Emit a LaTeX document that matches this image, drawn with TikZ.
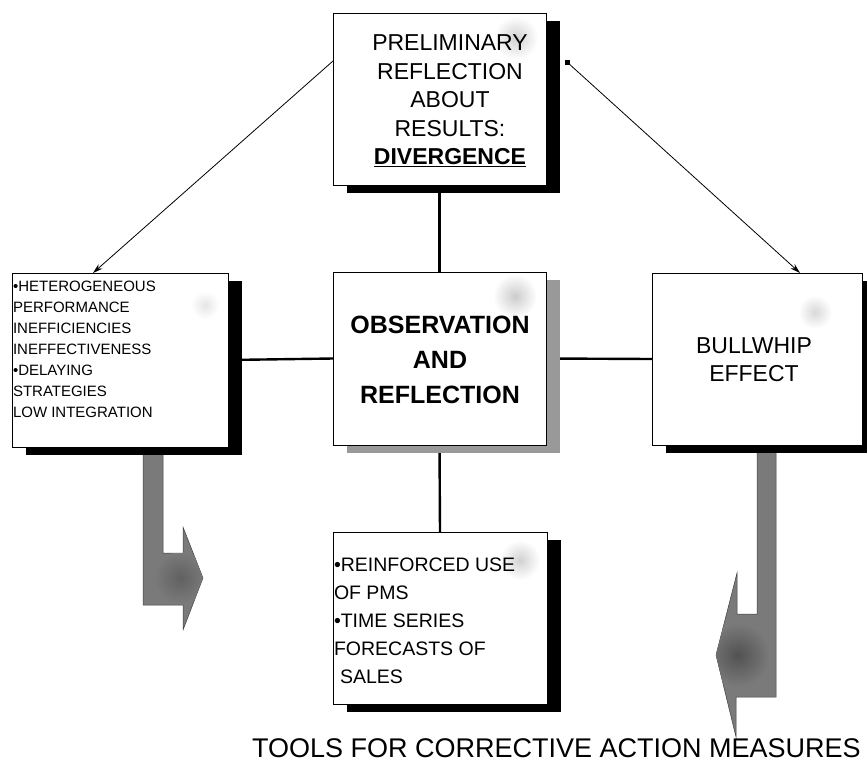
\documentclass[tikz,border=0pt]{standalone}
\usepackage{fontspec}
\setmainfont{Liberation Sans}
\usetikzlibrary{calc,arrows.meta}
\pgfdeclarelayer{links}
\pgfdeclarelayer{shadows}
\pgfsetlayers{links,shadows,main}
\begin{document}
\begin{tikzpicture}[x=1pt,y=-1pt,
  box/.style={draw=black, line width=0.9pt, fill=white, inner sep=0pt, outer sep=0pt},
  link/.style={line width=2.4pt},
  pointer/.style={line width=0.8pt, -{Stealth[length=10pt,width=6pt]}},
  txt/.style={inner sep=0pt, outer sep=0pt},
  bentarrow/.style={fill=black!52, draw=black!75, line width=0.5pt, line join=miter},
  speck/.style={inner color=black!#1, outer color=white}
]
\useasboundingbox (0,0) rectangle (867,763);
\clip (0,0) rectangle (867,763);

% boxes
\node[box, minimum width=213pt, minimum height=172pt] (top)   at (439.5,99)  {};
\node[box, minimum width=216pt, minimum height=174pt] (left)  at (120,360)   {};
\node[box, minimum width=213pt, minimum height=173pt] (obs)   at (439.5,358.5) {};
\node[box, minimum width=210pt, minimum height=172pt] (bull)  at (757,359)   {};
\node[box, minimum width=214pt, minimum height=172pt] (tools) at (440,618)   {};

% speckled highlights in the upper right corners
\shade[speck=18] (516,38) circle (22);
\shade[speck=20] (515,296) circle (22);
\shade[speck=10] (205,305) circle (14);
\shade[speck=15] (815,312) circle (17);
\shade[speck=18] (520,560) circle (20);

% drop shadows
\begin{pgfonlayer}{shadows}
  \fill[black]    ($(top.north west)+(14,8)$)   rectangle ($(top.south east)+(14,8)$);
  \fill[black]    ($(left.north west)+(14,8)$)  rectangle ($(left.south east)+(14,8)$);
  \fill[black!40] ($(obs.north west)+(14,8)$)   rectangle ($(obs.south east)+(14,8)$);
  \fill[black]    ($(bull.north west)+(14,8)$)  rectangle ($(bull.south east)+(14,8)$);
  \fill[black]    ($(tools.north west)+(14,8)$) rectangle ($(tools.south east)+(14,8)$);
\end{pgfonlayer}

% connecting lines and bent arrows
\begin{pgfonlayer}{links}
  \draw[link] (top.south) -- (obs.north);
  \draw[link] (obs.west)  -- (left.east);
  \draw[link] (obs.east)  -- (bull.west);
  \draw[link] (obs.south) -- (tools.north);

  \draw[bentarrow] (143,446) -- (163,446) -- (163,553) -- (183,553) -- (183,527)
    -- (203,578) -- (183,630) -- (183,605) -- (143,605) -- cycle;
  \begin{scope}
    \clip (143,446) -- (163,446) -- (163,553) -- (183,553) -- (183,527)
      -- (203,578) -- (183,630) -- (183,605) -- (143,605) -- cycle;
    \shade[inner color=black!62, outer color=black!52] (180,578) circle (26);
  \end{scope}

  \draw[bentarrow] (757,450) -- (776,450) -- (776,697) -- (736,697) -- (736,737)
    -- (716,655) -- (737,573) -- (737,614) -- (757,614) -- cycle;
  \begin{scope}
    \clip (757,450) -- (776,450) -- (776,697) -- (736,697) -- (736,737)
      -- (716,655) -- (737,573) -- (737,614) -- (757,614) -- cycle;
    \shade[inner color=black!68, outer color=black!52] (738,655) circle (32);
  \end{scope}
\end{pgfonlayer}

% pointers from the upper box
\draw[pointer] ($(top.north west)!0.279!(top.south west)$)
  -- ($(left.north west)!0.375!(left.north east)$);
\coordinate (dot) at ($(top.north east)!0.285!(top.south east)+(21,0)$);
\fill ($(dot)+(-2.5,-2.5)$) rectangle ($(dot)+(2.5,2.5)$);
\draw[pointer] (dot) -- ($(bull.north west)!0.705!(bull.north east)$);

% texts
\node[txt, font=\fontsize{23}{28.5}\selectfont, align=center] (toptext) at (450,101)
  {PRELIMINARY\\REFLECTION\\ABOUT\\RESULTS:\\\textbf{\underline{DIVERGENCE}}};
\node[txt, font=\fontsize{15}{21}\selectfont, align=left, anchor=north west] (lefttext) at (13,281)
  {•HETEROGENEOUS\\PERFORMANCE\\INEFFICIENCIES\\INEFFECTIVENESS\\•DELAYING\\STRATEGIES\\LOW INTEGRATION};
\node[txt, font=\fontsize{25}{35}\selectfont\bfseries, align=center] (obstext) at (440,360)
  {OBSERVATION\\AND\\REFLECTION};
\node[txt, font=\fontsize{23}{28}\selectfont, align=center] (bulltext) at (754,360)
  {BULLWHIP\\EFFECT};
\node[txt, font=\fontsize{19.5}{28}\selectfont, align=left, anchor=north west] (toolstext) at (334,558)
  {•REINFORCED USE\\OF PMS\\•TIME SERIES\\FORECASTS OF\\\hspace*{6pt}SALES};
\node[txt, font=\fontsize{27}{30}\selectfont, anchor=base west] (caption) at (252,757)
  {TOOLS FOR CORRECTIVE ACTION MEASURES};
\end{tikzpicture}
\end{document}
